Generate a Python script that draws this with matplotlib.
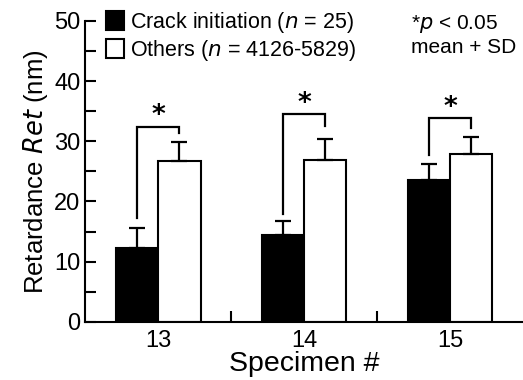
import matplotlib.pyplot as plt
import numpy as np
from matplotlib.ticker import MultipleLocator

plt.rcParams["font.family"] = ["Liberation Sans", "DejaVu Sans"]

# data
specimens = ["13", "14", "15"]
crack_mean = [12.3, 14.5, 23.6]
crack_sd = [3.3, 2.2, 2.6]
others_mean = [26.7, 26.9, 27.9]
others_sd = [3.2, 3.5, 2.8]
# significance brackets: (left leg bottom, top, right leg bottom)
bracket_low = [17.3, 18.0, 27.7]
bracket_top = [32.4, 34.5, 33.8]
bracket_right = [31.4, 32.6, 32.2]

x = np.arange(len(specimens))
w = 0.29

fig = plt.figure(figsize=(5.23, 3.80), dpi=100)
ax = fig.add_axes([0.163, 0.153, 0.837, 0.792])

err_kw = dict(ecolor="black", elinewidth=1.6, capsize=6, capthick=1.6)
ax.bar(x - w / 2, crack_mean, w, color="black", edgecolor="black",
       linewidth=1.5, label="Crack initiation ($n$ = 25)")
ax.errorbar(x - w / 2, crack_mean, yerr=[np.zeros(3), crack_sd],
            fmt="none", **err_kw)
ax.bar(x + w / 2, others_mean, w, color="white", edgecolor="black",
       linewidth=1.5, label="Others ($n$ = 4126-5829)")
ax.errorbar(x + w / 2, others_mean, yerr=[np.zeros(3), others_sd],
            fmt="none", **err_kw)

# brackets with stars
for i in range(len(x)):
    xl, xr = x[i] - w / 2, x[i] + w / 2
    ax.plot([xl, xl, xr, xr],
            [bracket_low[i], bracket_top[i], bracket_top[i], bracket_right[i]],
            color="black", lw=1.6, solid_joinstyle="miter")
    ax.text(x[i], bracket_top[i] - 0.4, "*", ha="center", va="bottom",
            fontsize=19, fontweight="bold", family="DejaVu Sans")

ax.set_xlim(-0.5, 2.5)
ax.set_ylim(0, 50)
ax.set_xticks(x)
ax.set_xticklabels(specimens)
ax.set_xticks([0.5, 1.5], minor=True)
ax.tick_params(axis="x", which="major", length=0, labelsize=17, pad=6)
ax.tick_params(axis="x", which="minor", direction="in", length=8, width=1.5)
ax.yaxis.set_major_locator(MultipleLocator(10))
ax.yaxis.set_minor_locator(MultipleLocator(5))
ax.tick_params(axis="y", which="both", direction="in", length=8, width=1.5,
               labelsize=17)
for s in ["top", "right"]:
    ax.spines[s].set_visible(False)
for s in ["left", "bottom"]:
    ax.spines[s].set_linewidth(1.5)

ax.set_xlabel("Specimen #", fontsize=20.5, labelpad=-1)
ax.set_ylabel("Retardance $Ret$ (nm)", fontsize=18.5, labelpad=3)

ax.legend(loc="upper left", bbox_to_anchor=(0.028, 1.065), frameon=False,
          fontsize=15.5, handlelength=0.85, handleheight=1.0,
          handletextpad=0.25, labelspacing=0.15, borderaxespad=0)
ax.text(0.745, 1.025, "*$p$ < 0.05\nmean + SD", transform=ax.transAxes,
        ha="left", va="top", fontsize=15, linespacing=1.15)

fig.savefig("out.png", dpi=100)
